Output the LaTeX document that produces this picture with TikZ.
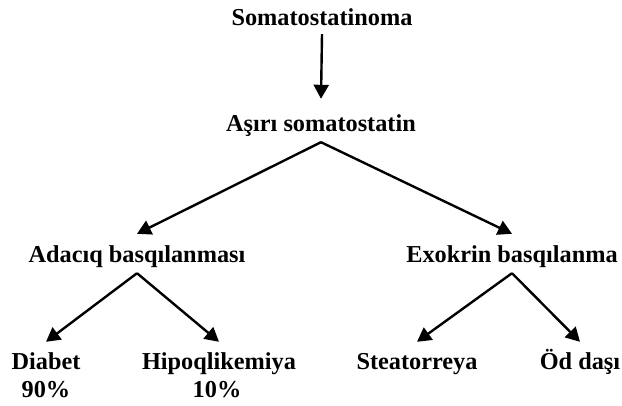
\documentclass[tikz,border=0pt]{standalone}
\usepackage{fontspec}
\setmainfont{Liberation Serif}
\usetikzlibrary{arrows.meta}

\begin{document}
\begin{tikzpicture}[x=1pt, y=-1pt, line width=2.4pt, >={Triangle[length=14pt, width=15pt]},
		every node/.style={font=\bfseries\fontsize{24.3}{28}\selectfont, anchor=base, inner sep=4pt, text height=15pt, text depth=5pt}]
		% 1. 画布大小
		\useasboundingbox (0,0) rectangle (622,406);
		
		% 2. 各层文字
		\node (soma) at (322, 26) {Somatostatinoma};
		\node (asiri) at (321, 132) {Aşırı somatostatin};
		
		\node (adaciq) at (137, 263) {Adacıq basqılanması};
		\node (exokrin) at (512, 263) {Exokrin basqılanma};
		
		\node (diabet) at (46, 370) {Diabet};
		\node (diabetpct) at (46, 398) {90\%};
		\node (hipo) at (219, 370) {Hipoqlikemiya};
		\node (hipopct) at (217, 398) {10\%};
		\node (steato) at (417, 370) {Steatorreya};
		\node (od) at (580, 370) {Öd daşı};
		
		% 3. 箭头
		\draw[->] ([yshift=2pt]soma.south) -- ([yshift=13pt]asiri.north);
		\draw[->] (asiri.south) -- ([yshift=9pt]adaciq.north);
		\draw[->] (asiri.south) -- ([yshift=9pt]exokrin.north);
		
		\draw[->] (adaciq.south) -- ([yshift=8pt]diabet.north);
		\draw[->] (adaciq.south) -- ([yshift=8pt]hipo.north);
		\draw[->] (exokrin.south) -- ([yshift=8pt]steato.north);
		\draw[->] (exokrin.south) -- ([yshift=8pt]od.north);
	\end{tikzpicture}
\end{document}
